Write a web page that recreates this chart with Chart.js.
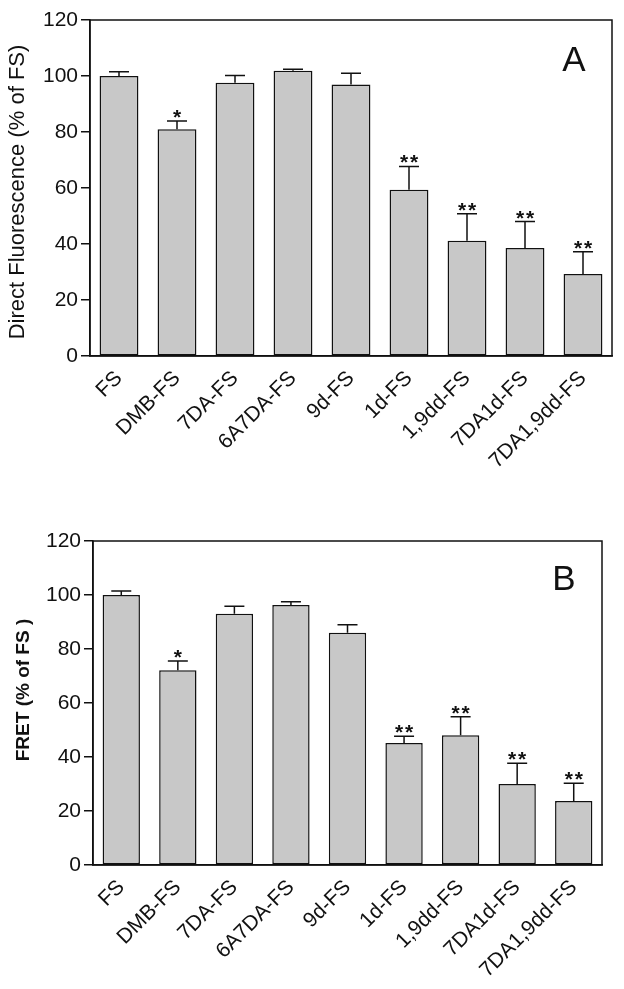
<!DOCTYPE html>
<html><head><meta charset="utf-8">
<script src="https://cdn.jsdelivr.net/npm/chart.js@4"></script>
<style>
html,body{margin:0;padding:0;background:#fff;width:624px;height:989px;overflow:hidden}
.p{position:absolute;left:0;width:624px}
</style></head><body>
<div class="p" style="top:0;height:500px"><canvas id="a" width="624" height="500"></canvas></div>
<div class="p" style="top:520px;height:469px"><canvas id="b" width="624" height="469"></canvas></div>
<script>
const categories = ['FS','DMB-FS','7DA-FS','6A7DA-FS','9d-FS','1d-FS','1,9dd-FS','7DA1d-FS','7DA1,9dd-FS'];
const directMeans = [100, 81, 97.6, 101.9, 97, 59.4, 41.2, 38.6, 29.3];
const directErr   = [1.5, 2.9, 2.6, 0.5, 4.0, 8.3, 9.6, 9.4, 7.9];
const directSig   = ['', '*', '', '', '', '**', '**', '**', '**'];
const fretMeans = [100, 72.1, 93.1, 96.3, 86, 45.2, 48.1, 30, 23.7];
const fretErr   = [1.5, 3.5, 2.7, 1.2, 3.0, 2.5, 6.8, 7.7, 6.6];
const fretSig   = ['', '*', '', '', '', '**', '**', '**', '**'];
const yTicks = [0, 20, 40, 60, 80, 100, 120];

const FONT = "'Liberation Sans', Arial, sans-serif";

const extras = {
  id: 'extras',
  afterDatasetsDraw(chart, args, opts) {
    const ctx = chart.ctx, ca = chart.chartArea;
    const xs = chart.scales.x, ys = chart.scales.y;
    ctx.save();
    ctx.strokeStyle = '#111'; ctx.lineWidth = 1.5;
    ctx.strokeRect(ca.left, ca.top, ca.right - ca.left, ca.bottom - ca.top);
    opts.means.forEach((m, i) => {
      const x = xs.getPixelForValue(i);
      const y0 = ys.getPixelForValue(m);
      const y1 = ys.getPixelForValue(m + opts.err[i]);
      ctx.beginPath();
      ctx.moveTo(x, y0); ctx.lineTo(x, y1);
      ctx.moveTo(x - 10, y1); ctx.lineTo(x + 10, y1);
      ctx.stroke();
      const s = opts.sig[i];
      if (s) {
        ctx.fillStyle = '#111';
        ctx.font = 'bold 21px ' + FONT;
        ctx.textAlign = 'center'; ctx.textBaseline = 'alphabetic';
        const n = s.length, gap = 10;
        for (let k = 0; k < n; k++) {
          const cx = x + (k - (n - 1) / 2) * gap;
          ctx.fillText('*', cx, y1 + 3);
        }
      }
    });
    ctx.fillStyle = '#111';
    ctx.font = '35px ' + FONT;
    ctx.textAlign = 'center'; ctx.textBaseline = 'middle';
    ctx.fillText(opts.letter, ca.right - opts.letterDx, ca.top + opts.letterDy);
    ctx.save();
    ctx.translate(opts.titleX, ca.top + opts.titleY);
    ctx.rotate(-Math.PI / 2);
    ctx.font = opts.titleFont;
    ctx.textAlign = 'center'; ctx.textBaseline = 'middle';
    ctx.fillText(opts.title, 0, 0);
    ctx.restore();
    ctx.restore();
  }
};

function makeChart(id, means, err, sig, letter, cfg) {
  return new Chart(document.getElementById(id), {
    type: 'bar',
    data: {
      labels: categories,
      datasets: [{
        data: means,
        backgroundColor: '#c8c8c8',
        borderColor: '#111',
        borderWidth: 1.5,
        borderSkipped: false,
        barPercentage: cfg.barPct,
        categoryPercentage: 1.0
      }]
    },
    options: {
      responsive: false,
      animation: false,
      layout: { padding: { top: cfg.top, right: cfg.right, left: 0, bottom: 0 } },
      plugins: {
        legend: { display: false },
        tooltip: { enabled: false },
        extras: { means, err, sig, letter, letterDx: cfg.letterDx, letterDy: cfg.letterDy,
                  title: cfg.title, titleFont: cfg.titleFont, titleX: cfg.titleX, titleY: cfg.titleY }
      },
      scales: {
        x: {
          grid: { display: false },
          border: { display: true, color: '#111', width: 1.5 },
          ticks: { color: '#111', font: { family: FONT, size: 21 }, maxRotation: 45, minRotation: 45, autoSkip: false, padding: 2 },
          afterFit(s) { s.height = cfg.xh; }
        },
        y: {
          min: 0, max: 120,
          afterBuildTicks(s) { s.ticks = yTicks.map(v => ({ value: v })); },
          grid: { drawOnChartArea: false, drawTicks: true, tickLength: 9, color: '#111', lineWidth: 1.5 },
          border: { display: true, color: '#111', width: 1.5 },
          ticks: { color: '#111', font: { family: FONT, size: 21 }, padding: 3 },
          afterFit(s) { s.width = cfg.yw; }
        }
      }
    },
    plugins: [extras]
  });
}

makeChart('a', directMeans, directErr, directSig, 'A', {
  top: 20, right: 12, xh: 144, yw: 90, barPct: 0.67,
  title: 'Direct Fluorescence (% of FS)', titleFont: '22px ' + FONT, titleX: 18, titleY: 172,
  letterDx: 38, letterDy: 41
});
makeChart('b', fretMeans, fretErr, fretSig, 'B', {
  top: 21, right: 22, xh: 124, yw: 93, barPct: 0.66,
  title: 'FRET (% of FS )', titleFont: 'bold 19px ' + FONT, titleX: 24, titleY: 149,
  letterDx: 38, letterDy: 39
});
</script>
</body></html>
